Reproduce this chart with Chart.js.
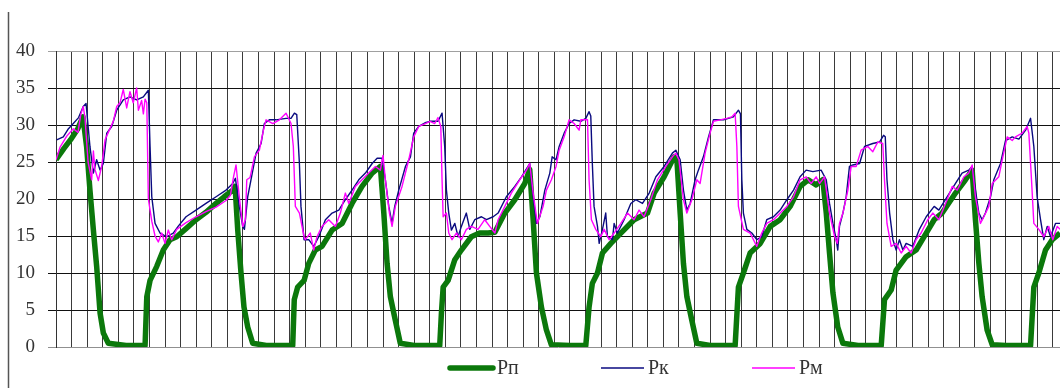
<!DOCTYPE html>
<html>
<head>
<meta charset="utf-8">
<script src="https://cdn.jsdelivr.net/npm/chart.js@4/dist/chart.umd.min.js"></script>
<style>
    html, body { margin: 0; padding: 0; background: #fff; }
    #wrap { position: relative; width: 1060px; height: 388px; }
</style>
</head>
<body>
<div id="wrap"><canvas id="pressureChart"></canvas></div>
<script>
// Time is counted in grid divisions, pressure in the axis units
const yTicks = [0, 5, 10, 15, 20, 25, 30, 35, 40];
const timeMax = 64.47;

const seriesNames = ['Рп', 'Рк', 'Рм'];

// Рп
const rpTime = [0, 0.5, 1.0, 1.4, 1.73, 1.97, 2.18, 2.4, 2.61, 2.83, 3.04, 3.36, 4.5, 5.72, 5.83, 6.04, 6.47, 6.89, 7.32, 7.75,
    8.35, 8.99, 9.63, 10.28, 10.8, 11.35, 11.5, 11.67, 11.88, 12.07, 12.31, 12.63, 13.5, 15.2, 15.3, 15.52, 15.93, 16.23, 16.65, 17.08,
    17.73, 18.37, 19.01, 19.65, 20.3, 20.83, 21.05, 21.26, 21.47, 21.79, 22.11, 23, 24.64, 24.75, 24.86, 25.18, 25.61, 26.03, 26.67, 27.2,
    27.75, 28.18, 28.82, 29.46, 30.1, 30.42, 30.64, 30.85, 31.17, 31.49, 31.81, 33, 34.02, 34.23, 34.44, 34.77, 35.09, 35.63, 36.27, 37.12,
    37.98, 38.41, 39.05, 39.69, 39.88, 40.08, 40.29, 40.51, 40.83, 41.15, 42, 43.61, 43.82, 44.14, 44.57, 45.22, 45.86, 46.5, 47.14, 47.78,
    48.3, 48.81, 49.24, 49.46, 49.67, 49.89, 50.2, 50.53, 51.5, 52.99, 53.2, 53.63, 53.95, 54.59, 55.23, 55.88, 56.39, 56.9, 57.76, 58.4,
    58.83, 59.04, 59.26, 59.47, 59.79, 60.12, 61, 62.58, 62.79, 63.11, 63.54, 63.97, 64.47];
const rpValues = [25.3, 26.8, 28.2, 29.5, 31.1, 27, 21.2, 15.8, 10.9, 4.6, 1.9, 0.5, 0.2, 0.2, 6.8, 9, 10.9, 13.1, 14.5, 14.9,
    16.0, 17.2, 18.2, 19.4, 20.3, 21.2, 21.7, 15.8, 10, 5.4, 2.7, 0.5, 0.2, 0.2, 6.4, 8.1, 9, 11.3, 13.1, 13.6,
    15.8, 16.7, 19.4, 21.7, 23.5, 24.4, 18.1, 11.3, 6.8, 3.6, 0.5, 0.2, 0.2, 4.6, 8.1, 9, 11.8, 13.1, 14.9, 15.4,
    15.4, 15.5, 18.1, 19.9, 22.1, 24, 17.2, 10, 5.4, 2.3, 0.3, 0.2, 0.2, 5.4, 8.6, 10, 12.7, 14, 15.4, 17.2,
    18.1, 20.8, 23, 25.7, 25, 18.1, 11.3, 6.8, 3.6, 0.5, 0.2, 0.2, 8.1, 10, 12.7, 14, 16.3, 17.2, 19, 21.7,
    22.6, 21.9, 22.6, 18.1, 12.7, 7.3, 2.7, 0.5, 0.2, 0.2, 6.4, 7.7, 10.4, 12.2, 13.1, 15.4, 17.2, 18.1, 20.8, 22.6,
    23.9, 17.2, 11.3, 6.8, 2.3, 0.3, 0.2, 0.2, 8.1, 10, 13.1, 14.5, 15.4];

// Рк
const rkTime = [0.04, 0.47, 0.8, 1.11, 1.45, 1.75, 1.93, 2.18, 2.4, 2.61, 2.83, 3.04, 3.26, 3.58, 3.9, 4.32, 4.75, 5.18, 5.61, 5.93,
    6.04, 6.15, 6.36, 6.68, 7.11, 7.53, 7.84, 8.35, 8.99, 9.63, 10.28, 10.92, 11.35, 11.52, 11.77, 11.99, 12.1, 12.31, 12.52, 12.85,
    13.17, 13.38, 13.7, 14.13, 14.77, 15.09, 15.31, 15.46, 15.63, 15.73, 15.93, 16.23, 16.55, 16.87, 17.3, 17.73, 18.16, 18.58, 19.01, 19.44,
    19.87, 20.3, 20.62, 20.94, 21.15, 21.37, 21.58, 21.75, 22.01, 22.44, 22.76, 22.97, 23.29, 23.7, 24.02, 24.53, 24.79, 24.96, 25.07, 25.22,
    25.39, 25.61, 25.82, 26.03, 26.35, 26.57, 26.89, 27.32, 27.64, 28.07, 28.39, 28.92, 29.46, 29.89, 30.31, 30.42, 30.64, 30.85, 31.07, 31.39,
    31.71, 31.86, 32.11, 32.31, 32.63, 32.95, 33.27, 33.7, 34.02, 34.23, 34.34, 34.44, 34.55, 34.77, 34.88, 35.09, 35.3, 35.41, 35.73, 35.84,
    36.05, 36.48, 36.91, 37.23, 37.66, 38.09, 38.52, 39.05, 39.58, 39.8, 40.08, 40.29, 40.51, 40.72, 41.04, 41.25, 41.57, 41.9, 42.22, 42.86,
    43.5, 43.82, 43.95, 44.04, 44.14, 44.36, 44.68, 45, 45.32, 45.64, 46.07, 46.5, 46.93, 47.36, 47.78, 48.17, 48.6, 49.13, 49.46, 49.67,
    49.89, 50.1, 50.2, 50.31, 50.53, 50.74, 50.95, 51.17, 51.6, 51.92, 52.45, 52.88, 53.14, 53.25, 53.36, 53.53, 53.74, 53.95, 54.16, 54.38,
    54.59, 55.02, 55.44, 55.88, 56.39, 56.69, 57.22, 57.76, 58.18, 58.61, 58.83, 59.04, 59.26, 59.47, 59.68, 60.01, 60.22, 60.65, 60.97, 61.4,
    61.83, 62.26, 62.58, 62.79, 63.0, 63.22, 63.43, 63.65, 63.86, 64.18, 64.47];
const rkValues = [28, 28.4, 29.5, 30.2, 31, 32.5, 32.9, 27.1, 23.5, 25.3, 23.9, 24.8, 28.9, 29.8, 32, 33.4, 33.8, 33.4, 33.8, 34.7,
    27.1, 20.3, 16.7, 15.4, 14.9, 15.4, 16.3, 17.6, 18.5, 19.4, 20.3, 21.2, 22.1, 22.8, 19, 16.3, 15.9, 20.3, 22.6, 26.2,
    27.5, 30.2, 30.7, 30.7, 30.9, 30.9, 31.6, 31.4, 24.8, 19, 14.5, 14.5, 13.6, 14.9, 17.2, 18.1, 18.5, 19.9, 21.2, 22.6,
    23.5, 24.8, 25.5, 25.5, 22.6, 19, 16.7, 19, 21.2, 24.4, 25.7, 28.9, 29.8, 30.3, 30.5, 30.5, 31.6, 27.1, 21.2, 18.1,
    15.8, 16.7, 14.9, 16.3, 18.1, 15.9, 17.2, 17.6, 17.2, 17.6, 18.1, 20.3, 21.7, 23, 24.4, 24.8, 20.3, 16.7, 17.6, 21.2,
    23.5, 25.7, 25.3, 27.1, 28.9, 30.2, 30.7, 30.5, 30.9, 31.8, 31.2, 24.8, 19, 16.3, 14, 15.9, 18.1, 14.9, 14.5, 16.7,
    15.4, 17.2, 19.4, 19.9, 19.4, 20.8, 23, 24.4, 26.2, 26.6, 25.3, 21.2, 18.5, 19.4, 22.6, 23.9, 25.7, 28.4, 30.7, 30.7,
    31.1, 32, 31.5, 22.6, 18.1, 15.9, 15.4, 14.5, 14.9, 17.2, 17.6, 18.5, 19.9, 21.2, 23, 23.9, 23.7, 23.9, 22.6, 19.4,
    16.7, 14.5, 13.1, 16.3, 18.1, 20.3, 24.4, 24.6, 24.8, 27.1, 27.5, 27.7, 28.6, 28.4, 22.6, 18.1, 14.5, 13.1, 14.5, 13.1,
    14, 13.6, 15.9, 17.6, 19, 18.5, 20.3, 22.1, 23.5, 23.9, 24.4, 21.2, 18.1, 17.2, 18.1, 20.3, 22.6, 24.8, 27.9, 28.4,
    28.1, 29.3, 30.9, 27.1, 20.3, 17.2, 14.5, 16.3, 14.9, 16.7, 16.7];

// Рм
const rmTime = [0, 0.26, 0.69, 1.11, 1.41, 1.6, 1.75, 1.86, 2.06, 2.29, 2.4, 2.5, 2.72, 2.94, 3.15, 3.36, 3.68, 3.9, 4.11, 4.32,
    4.54, 4.75, 4.96, 5.18, 5.29, 5.5, 5.61, 5.72, 5.83, 5.93, 6.15, 6.36, 6.57, 6.79, 7.0, 7.21, 7.43, 7.75, 8.35, 8.99,
    9.63, 10.28, 10.92, 11.2, 11.4, 11.56, 11.77, 11.99, 12.16, 12.25, 12.46, 12.74, 13.06, 13.32, 13.49, 13.92, 14.35, 14.77, 15.09, 15.24,
    15.37, 15.63, 15.93, 16.01, 16.33, 16.55, 16.76, 17.08, 17.51, 17.94, 18.26, 18.58, 18.8, 19.22, 19.65, 20.08, 20.51, 20.83, 21.0, 21.15,
    21.41, 21.58, 21.79, 22.22, 22.65, 22.97, 23.29, 23.72, 24.02, 24.32, 24.53, 24.71, 24.79, 24.86, 25.07, 25.22, 25.43, 25.71, 26.03, 26.35,
    26.67, 27.1, 27.53, 27.85, 28.18, 28.39, 28.82, 29.24, 29.78, 30.21, 30.42, 30.64, 30.91, 31.28, 31.49, 31.81, 32.11, 32.31, 32.63, 32.95,
    33.27, 33.59, 33.7, 34.13, 34.23, 34.38, 34.66, 34.98, 35.2, 35.52, 35.84, 36.27, 36.7, 37.12, 37.44, 37.76, 38.19, 38.62, 39.16, 39.58,
    39.8, 40.0, 40.29, 40.51, 40.83, 41.15, 41.36, 41.68, 42.0, 42.22, 42.65, 43.07, 43.4, 43.61, 43.72, 43.82, 44.14, 44.57, 45, 45.32,
    45.64, 46.07, 46.5, 46.93, 47.36, 47.78, 48.17, 48.49, 48.81, 49.03, 49.35, 49.67, 50.0, 50.17, 50.31, 50.53, 50.85, 51.06, 51.38, 51.7,
    52.13, 52.45, 52.77, 53.09, 53.2, 53.36, 53.63, 53.95, 54.27, 54.59, 54.91, 55.23, 55.55, 55.98, 56.3, 56.69, 57.22, 57.55, 57.87, 58.3,
    58.61, 58.83, 59.04, 59.36, 59.58, 59.9, 60.12, 60.54, 60.76, 61.08, 61.4, 61.61, 62.04, 62.36, 62.47, 62.64, 62.79, 63.11, 63.43, 63.75,
    64.01, 64.29, 64.47];
const rmValues = [25.3, 27, 28.5, 29.5, 29, 31.5, 32.5, 31, 25, 22.6, 26.5, 24, 22.5, 24.5, 28, 29, 30.5, 32.5, 33, 34.8,
    32.3, 34.5, 33, 35, 32, 33.3, 31.5, 33.5, 33, 20, 17, 15, 14.2, 15.4, 14, 15.8, 14.5, 15.9, 16.8, 17.6,
    18.3, 18.9, 19.8, 20.5, 23, 24.6, 20.3, 16.3, 17.2, 22.6, 22.9, 25.7, 26.6, 29.3, 30.7, 30.2, 30.7, 31.6, 30.2, 27.1,
    19, 18.1, 14.9, 14.5, 15.4, 13.1, 14.9, 16.3, 17.2, 16.3, 18.1, 20.8, 19.4, 21.7, 22.6, 23.5, 24.4, 23.9, 25.9, 22.6,
    18.1, 16.3, 19, 21.7, 25.3, 28.4, 29.8, 30.2, 30.5, 30.2, 31, 29.8, 22.6, 17.6, 18.1, 15.4, 14.5, 15.4, 14.5, 15.9,
    16.3, 15.9, 17.2, 16.3, 15.4, 17.2, 19, 20.8, 22.6, 23.9, 24.8, 20.8, 16.7, 19, 21.2, 22.6, 24.4, 26.6, 28.4, 30.7,
    30.2, 29.3, 30.7, 30.7, 22.6, 17.2, 15.9, 14.9, 15.9, 14.5, 15.4, 16.7, 18.1, 17.2, 18.5, 17.6, 19.9, 22.6, 24.4, 25.7,
    26.2, 25.3, 19.9, 18.1, 19.9, 22.6, 22.1, 26.2, 28.9, 30.5, 30.7, 30.9, 31.1, 31.6, 27.1, 19, 15.9, 15.4, 13.6, 15.4,
    16.7, 17.2, 18.1, 19, 20.3, 22.6, 23, 22.1, 23, 22.1, 23, 18.1, 14.9, 14, 16.7, 18.1, 21.2, 24.4, 24.4, 26.6,
    27.1, 26.4, 27.7, 27.5, 22.6, 16.7, 13.6, 14, 12.7, 13.6, 12.7, 14.5, 15.4, 17.2, 18.1, 17.2, 19.9, 21.7, 21.2, 23,
    23.5, 24.6, 20.3, 16.7, 17.6, 19, 22.1, 23, 25.3, 28.4, 27.9, 28.4, 28.9, 29.8, 28.9, 22.6, 16.7, 15.9, 14.9, 16.3,
    14.5, 16.3, 15.9];

const seriesColors = ['#0b780b', '#0a0a80', '#ff00ff'];
const seriesWidths = [5.5, 1.4, 1.4];

function toPoints(times, values) {
    return times.map(function(t, i) { return { x: t, y: values[i] }; });
}

// Row of line samples under the plot, plus the thin frame line on the left
const legendRow = {
    id: 'legendRow',
    beforeDraw: function(chart) {
        const ctx = chart.ctx;
        ctx.save();
        ctx.strokeStyle = '#555';
        ctx.lineWidth = 1.5;
        ctx.beginPath();
        ctx.moveTo(8.5, 12);
        ctx.lineTo(8.5, chart.height);
        ctx.stroke();
        ctx.restore();
    },
    afterDraw: function(chart) {
        const ctx = chart.ctx;
        const y = chart.chartArea.bottom + 21;
        const start = 450, step = 151, sample = 43;
        ctx.save();
        ctx.font = '20px "Liberation Serif", serif';
        ctx.textBaseline = 'middle';
        ctx.fillStyle = '#333';
        chart.data.datasets.forEach(function(ds, i) {
            const x = start + i * step;
            ctx.strokeStyle = ds.borderColor;
            ctx.lineWidth = ds.borderWidth;
            ctx.lineCap = i === 0 ? 'round' : 'butt';
            ctx.beginPath();
            ctx.moveTo(x, y);
            ctx.lineTo(x + sample, y);
            ctx.stroke();
            ctx.fillText(ds.label, x + sample + 4, y + 1);
        });
        ctx.restore();
    }
};

const series = [
    toPoints(rpTime, rpValues),
    toPoints(rkTime, rkValues),
    toPoints(rmTime, rmValues)
];

new Chart(document.getElementById('pressureChart'), {
    type: 'line',
    data: {
        datasets: series.map(function(points, i) {
            return {
                label: seriesNames[i],
                data: points,
                borderColor: seriesColors[i],
                backgroundColor: seriesColors[i],
                borderWidth: seriesWidths[i],
                borderJoinStyle: 'round',
                pointRadius: 0,
                tension: 0,
                fill: false,
                order: 3 - i
            };
        })
    },
    options: {
        responsive: true,
        maintainAspectRatio: false,
        animation: false,
        events: [],
        layout: { padding: { left: 0, top: 51, right: 0, bottom: 41 } },
        plugins: {
            legend: { display: false },
            tooltip: { enabled: false }
        },
        scales: {
            x: {
                type: 'linear',
                min: 0,
                max: timeMax,
                ticks: { display: false, stepSize: 1, includeBounds: false },
                grid: { color: '#3a3a3a', lineWidth: 1, drawTicks: false },
                border: { display: false },
                afterFit: function(scale) { scale.height = 0; }
            },
            y: {
                min: 0,
                max: 40,
                afterBuildTicks: function(scale) {
                    scale.ticks = yTicks.map(function(v) { return { value: v }; });
                },
                ticks: {
                    color: '#333',
                    padding: 13,
                    font: { family: '"Liberation Serif", serif', size: 19 }
                },
                grid: {
                    color: function(c) {
                        if (c.tick && c.tick.value === 40) return '#a0a0a0';
                        if (c.tick && c.tick.value === 0) return '#909090';
                        return '#111';
                    },
                    lineWidth: 1,
                    tickLength: 8
                },
                border: { color: '#333' },
                afterFit: function(scale) { scale.width = 56; }
            }
        }
    },
    plugins: [legendRow]
});
</script>
</body>
</html>
